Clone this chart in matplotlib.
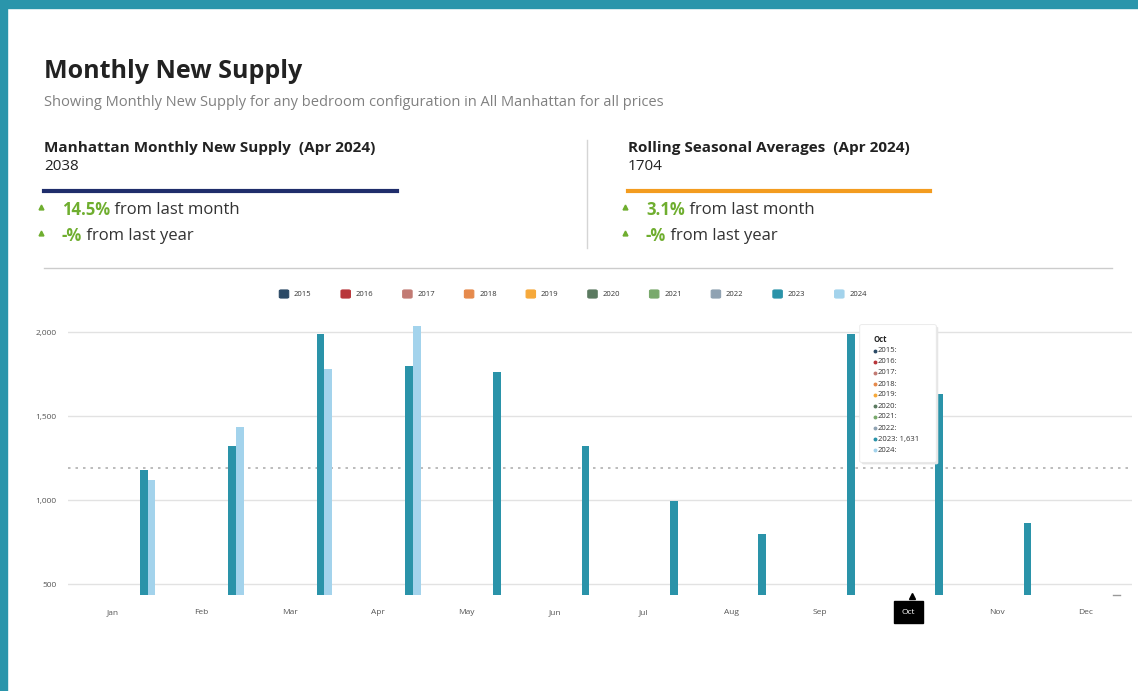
import numpy as np
import matplotlib.pyplot as plt
from matplotlib.patches import FancyBboxPatch, Rectangle
from matplotlib.lines import Line2D
from matplotlib.text import Annotation

plt.rcParams['font.family'] = ['Open Sans', 'DejaVu Sans']

months = ['Jan', 'Feb', 'Mar', 'Apr', 'May', 'Jun', 'Jul', 'Aug', 'Sep', 'Oct', 'Nov', 'Dec']
years = ['2015', '2016', '2017', '2018', '2019', '2020', '2021', '2022', '2023', '2024']
year_colors = ['#2b4a66', '#b8363a', '#c27b74', '#e68a4c', '#f6a93b',
               '#5b7a60', '#79a96c', '#8fa2b2', '#2a93a9', '#a3d3ec']
supply_2023 = [1179, 1321, 1988, 1798, 1762, 1321, 994, 798, 1988, 1631, 863, None]
supply_2024 = [1119, 1435, 1780, 2038]
seasonal_avg = 1190
tooltip_month = 'Oct'

W, H = 1138, 691
def fx(x):
    return x / W
def fy(y):
    return 1 - y / H

fig = plt.figure(figsize=(W / 100, H / 100), dpi=100)
fig.patch.set_facecolor('white')

# teal frame
fig.patches.append(Rectangle((0, fy(8)), 1, 8 / H, transform=fig.transFigure, color='#2a95ab', zorder=0))
fig.patches.append(Rectangle((0, 0), 7 / W, 1, transform=fig.transFigure, color='#2a95ab', zorder=0))

dark = '#222222'
green = '#6fae2f'

fig.text(fx(44), fy(71), 'Monthly New Supply', fontsize=18, fontweight='bold', color=dark, va='center')
fig.text(fx(44), fy(103), 'Showing Monthly New Supply for any bedroom configuration in All Manhattan for all prices',
         fontsize=10.5, color='#808080', va='center')

def kpi_block(x0, x1, title, value, linecol, pct):
    fig.text(fx(x0), fy(148), title, fontsize=11, fontweight='bold', color=dark, va='center')
    fig.text(fx(x0), fy(167), value, fontsize=11, color=dark, va='center')
    fig.add_artist(Line2D([fx(x0), fx(x1)], [fy(191), fy(191)], color=linecol, lw=3, transform=fig.transFigure))
    for yy, bold, rest in [(210, pct, ' from last month'), (236, '-%', ' from last year')]:
        fig.add_artist(Line2D([fx(x0 - 3)], [fy(yy - 3)], marker='^', ms=3.5, color=green,
                              lw=0, transform=fig.transFigure))
        t = fig.text(fx(x0 + 18), fy(yy), bold, fontsize=12, fontweight='bold', color=green, va='center')
        fig.add_artist(Annotation(rest, xy=(1, 0.5), xycoords=t, va='center', ha='left',
                                  fontsize=12, color='#333333', annotation_clip=False))

kpi_block(44, 397, 'Manhattan Monthly New Supply  (Apr 2024)', '2038', '#1f2d6b', '14.5%')
kpi_block(628, 930, 'Rolling Seasonal Averages  (Apr 2024)', '1704', '#f39c1f', '3.1%')

fig.add_artist(Line2D([fx(587), fx(587)], [fy(140), fy(248)], color='#d5d5d5', lw=1, transform=fig.transFigure))
fig.add_artist(Line2D([fx(44), fx(1112)], [fy(268), fy(268)], color='#cccccc', lw=1, transform=fig.transFigure))

# legend
for i, (yr, col) in enumerate(zip(years, year_colors)):
    lx = 284 + i * 61.7
    fig.patches.append(FancyBboxPatch((fx(lx - 3), fy(297)), 6 / W, 6 / H, boxstyle='round,pad=0.0015',
                                      transform=fig.transFigure, facecolor=col, edgecolor=col, lw=0.8))
    fig.text(fx(lx + 10), fy(294.5), yr, fontsize=5.5, color='#333333', va='center')

# chart
ymin, ymax = 435, 2075
ax = fig.add_axes([fx(68), fy(595), (1132 - 68) / W, (ymax - ymin) * 0.168 / H])
x = np.arange(len(months))
slot = 0.088
base = 0.347 - 8 * slot
vals23 = np.array([np.nan if v is None else v for v in supply_2023], dtype=float)
vals24 = np.full(len(months), np.nan)
vals24[:len(supply_2024)] = supply_2024
series = {'2023': vals23, '2024': vals24}
for i, yr in enumerate(years):
    if yr in series:
        ax.bar(x + base + i * slot, series[yr], width=slot, color=year_colors[i], zorder=3, linewidth=0)

ax.set_xlim(-0.51, 11.53)
ax.set_ylim(ymin, ymax)
ax.set_yticks([500, 1000, 1500, 2000])
ax.set_yticklabels(['{:,}'.format(v) for v in [500, 1000, 1500, 2000]])
ax.grid(axis='y', color='#e2e2e2', lw=1, zorder=0)
ax.axhline(seasonal_avg, color='#b0b0b0', lw=1.2, ls=(0, (1.5, 3)), zorder=2)
ax.set_xticks(x)
ax.set_xticklabels(months)
for s in ax.spines.values():
    s.set_visible(False)
ax.tick_params(axis='y', length=0, pad=8, labelsize=6, labelcolor='#555555')
ax.tick_params(axis='x', length=0, pad=10, labelsize=6, labelcolor='#555555')

# highlighted Oct tick and tooltip
ti = months.index(tooltip_month)
lab = ax.get_xticklabels()[ti]
lab.set_color('white')
lab.set_bbox(dict(facecolor='black', edgecolor='black', boxstyle='square,pad=0.9'))
fig.add_artist(Line2D([fx(912)], [fy(596)], marker='^', ms=5, color='black', lw=0, transform=fig.transFigure))

bar_left = ti + base + 8 * slot - slot / 2
ax.vlines(bar_left, vals23[ti], 2040, color='#bbbbbb', lw=1, ls=(0, (1, 1.5)), zorder=4)

fig.patches.append(FancyBboxPatch((fx(864), fy(463)), 72 / W, 135 / H, boxstyle='round,pad=0.002',
                                  transform=fig.transFigure, facecolor='#e6e6e6', edgecolor='none', zorder=5))
fig.patches.append(FancyBboxPatch((fx(862), fy(461)), 72 / W, 135 / H, boxstyle='round,pad=0.002',
                                  transform=fig.transFigure, facecolor='white', edgecolor='#e8e8e8', lw=0.6, zorder=6))
fig.text(fx(873), fy(340), tooltip_month, fontsize=5.5, fontweight='bold', color=dark, va='center', zorder=7)
for i, (yr, col) in enumerate(zip(years, year_colors)):
    yy = 351 + i * 11
    v = series[yr][ti] if yr in series else np.nan
    txt = yr + ':' + ('' if np.isnan(v) else ' {:,}'.format(int(v)))
    fig.add_artist(Line2D([fx(874.5)], [fy(yy)], marker='o', ms=1.8, color=col, lw=0,
                          transform=fig.transFigure, zorder=7))
    fig.text(fx(878), fy(yy), txt, fontsize=5.5, color='#333333', va='center', zorder=7)

# small marker near Dec
fig.add_artist(Line2D([fx(1113), fx(1120)], [fy(595), fy(595)], color='#999999', lw=1, transform=fig.transFigure))

fig.savefig('out.png', dpi=100)
